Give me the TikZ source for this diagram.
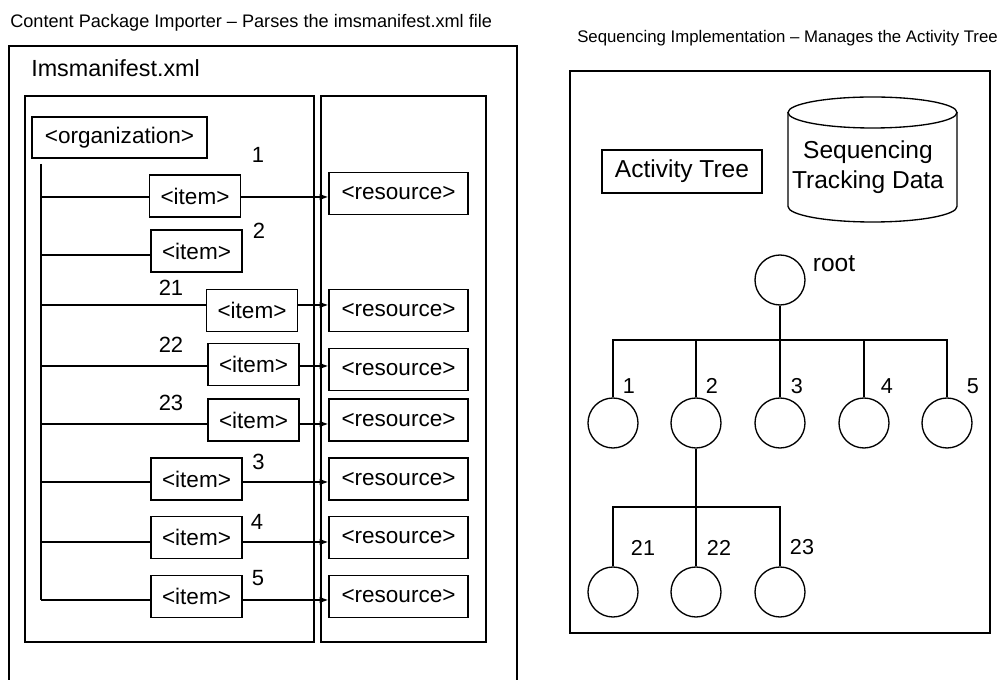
\documentclass[tikz,border=0pt]{standalone}
\usepackage{fontspec}
\setmainfont{Liberation Sans}
\usetikzlibrary{arrows.meta}
\tikzset{
  box/.style={draw, line width=1pt, inner sep=0pt, font=\fontsize{16.9}{20}\selectfont},
  itembox/.style={box, minimum width=68.25pt, minimum height=31.5pt},
  resbox/.style={box, minimum width=104.25pt, minimum height=31.5pt},
  num/.style={inner sep=0pt, font=\fontsize{16.5}{20}\selectfont},
  treenum/.style={inner sep=0pt, font=\fontsize{16.2}{20}\selectfont},
  bigtext/.style={font=\fontsize{18.4}{22.5}\selectfont},
  frame/.style={draw, line width=1pt},
  link/.style={line width=1pt},
  arr/.style={line width=1pt, -{Latex[length=6.5pt,width=5pt]}},
  treenode/.style={draw, circle, line width=1pt, minimum size=37.5pt, inner sep=0pt},
}
\begin{document}
\begin{tikzpicture}[x=0.75pt,y=-0.75pt]
\useasboundingbox (0,0) rectangle (1001,680);
\fill[white] (0,0) rectangle (1001,680);

% ---------- Left part ----------
\node[anchor=base west, inner sep=0pt, font=\fontsize{13.6}{16}\selectfont] (ltitle) at (10,28)
  {Content Package Importer – Parses the imsmanifest.xml file};
\draw[frame] (9,680) -- (9,46) -- (517,46) -- (517,680);
\node[anchor=base west, inner sep=0pt, font=\fontsize{17.5}{21}\selectfont] (manifest) at (31,76.5) {Imsmanifest.xml};
\draw[frame] (25,96) rectangle (314,642);
\draw[frame] (321,96) rectangle (486,642);

\node[box, minimum width=131.25pt, minimum height=30.75pt] (org) at (119.5,137.5) {<organization>};

\node[itembox] (i1)  at (195,196)     {<item>};
\node[itembox] (i2)  at (196.5,251)   {<item>};
\node[itembox] (i21) at (252,310.5)   {<item>};
\node[itembox] (i22) at (253.5,364.5) {<item>};
\node[itembox] (i23) at (253.5,420)   {<item>};
\node[itembox] (i3)  at (196.5,479)   {<item>};
\node[itembox] (i4)  at (196.5,537.5) {<item>};
\node[itembox] (i5)  at (196.5,596.5) {<item>};

\node[resbox] (r1)  at (398.5,193.5) {<resource>};
\node[resbox] (r21) at (398.5,310.5) {<resource>};
\node[resbox] (r22) at (398.5,369.5) {<resource>};
\node[resbox] (r23) at (398.5,420)   {<resource>};
\node[resbox] (r3)  at (398.5,479)   {<resource>};
\node[resbox] (r4)  at (398.5,537.5) {<resource>};
\node[resbox] (r5)  at (398.5,596.5) {<resource>};

\coordinate (ttop) at (41,164);
\coordinate (t1)  at (41,197);
\coordinate (t2)  at (41,255);
\coordinate (t21) at (41,305);
\coordinate (t22) at (41,366);
\coordinate (t23) at (41,424);
\coordinate (t3)  at (41,482);
\coordinate (t4)  at (41,542);
\coordinate (t5)  at (41,600);

\draw[link] (ttop) -- (t5);
\foreach \k in {1,2,21,22,23,3,4,5}
  \draw[link] (t\k) -- (t\k -| i\k.west);
\foreach \k in {1,21,22,23,3,4,5}
  \draw[arr] (t\k -| i\k.east) -- (t\k -| r\k.west);

\node[num] (n1)  at (258,155)   {1};
\node[num] (n2)  at (259,230.5) {2};
\node[num] (n21) at (171,287.5) {21};
\node[num] (n22) at (171,345)   {22};
\node[num] (n23) at (171,402.5) {23};
\node[num] (n3)  at (258.5,462) {3};
\node[num] (n4)  at (257,521.5) {4};
\node[num] (n5)  at (258,578.5) {5};

% ---------- Right part ----------
\node[anchor=base west, inner sep=0pt, font=\fontsize{12.6}{15}\selectfont] (rtitle) at (577,43)
  {Sequencing Implementation – Manages the Activity Tree};
\draw[frame] (570,71) rectangle (990,633);

\node[box, bigtext, minimum width=120pt, minimum height=32.25pt] (acttree) at (682,171.5) {Activity Tree};

% cylinder
\draw[line width=1pt] (788,112.5) -- (788,206.5)
  arc[start angle=180, end angle=360, x radius=63.375pt, y radius=11.625pt] -- (957,112.5);
\draw[line width=1pt] (872.5,112.5) ellipse [x radius=63.375pt, y radius=11.625pt];
\node[bigtext, align=center, inner sep=0pt] (std) at (868,167) {Sequencing\\Tracking Data};

% tree
\node[treenode] (root) at (780,280) {};
\node[treenode] (c1) at (613,423) {};
\node[treenode] (c2) at (696,423) {};
\node[treenode] (c3) at (780,423) {};
\node[treenode] (c4) at (864,423) {};
\node[treenode] (c5) at (947,423) {};
\node[treenode] (d21) at (613,592) {};
\node[treenode] (d22) at (696,592) {};
\node[treenode] (d23) at (780,592) {};

\coordinate (b1) at (780,340);
\coordinate (b2) at (696,507);

\draw[link] (root) -- (b1);
\draw[link] (c1.north) -- (c1.north |- b1) -- (c5.north |- b1) -- (c5.north);
\foreach \k in {2,3,4}
  \draw[link] (c\k.north) -- (c\k.north |- b1);
\draw[link] (c2) -- (b2);
\draw[link] (d21.north) -- (d21.north |- b2) -- (d23.north |- b2) -- (d23.north);
\draw[link] (d22.north) -- (b2);

\node[bigtext, inner sep=0pt] (lroot) at (834,264) {root};
\node[treenum] (l1) at (629,386) {1};
\node[treenum] (l2) at (712,386) {2};
\node[treenum] (l3) at (797,386) {3};
\node[treenum] (l4) at (887,386) {4};
\node[treenum] (l5) at (973,386) {5};
\node[treenum] (l21) at (643,547.5) {21};
\node[treenum] (l22) at (719,547.5) {22};
\node[treenum] (l23) at (802,547.5) {23};
\end{tikzpicture}
\end{document}
